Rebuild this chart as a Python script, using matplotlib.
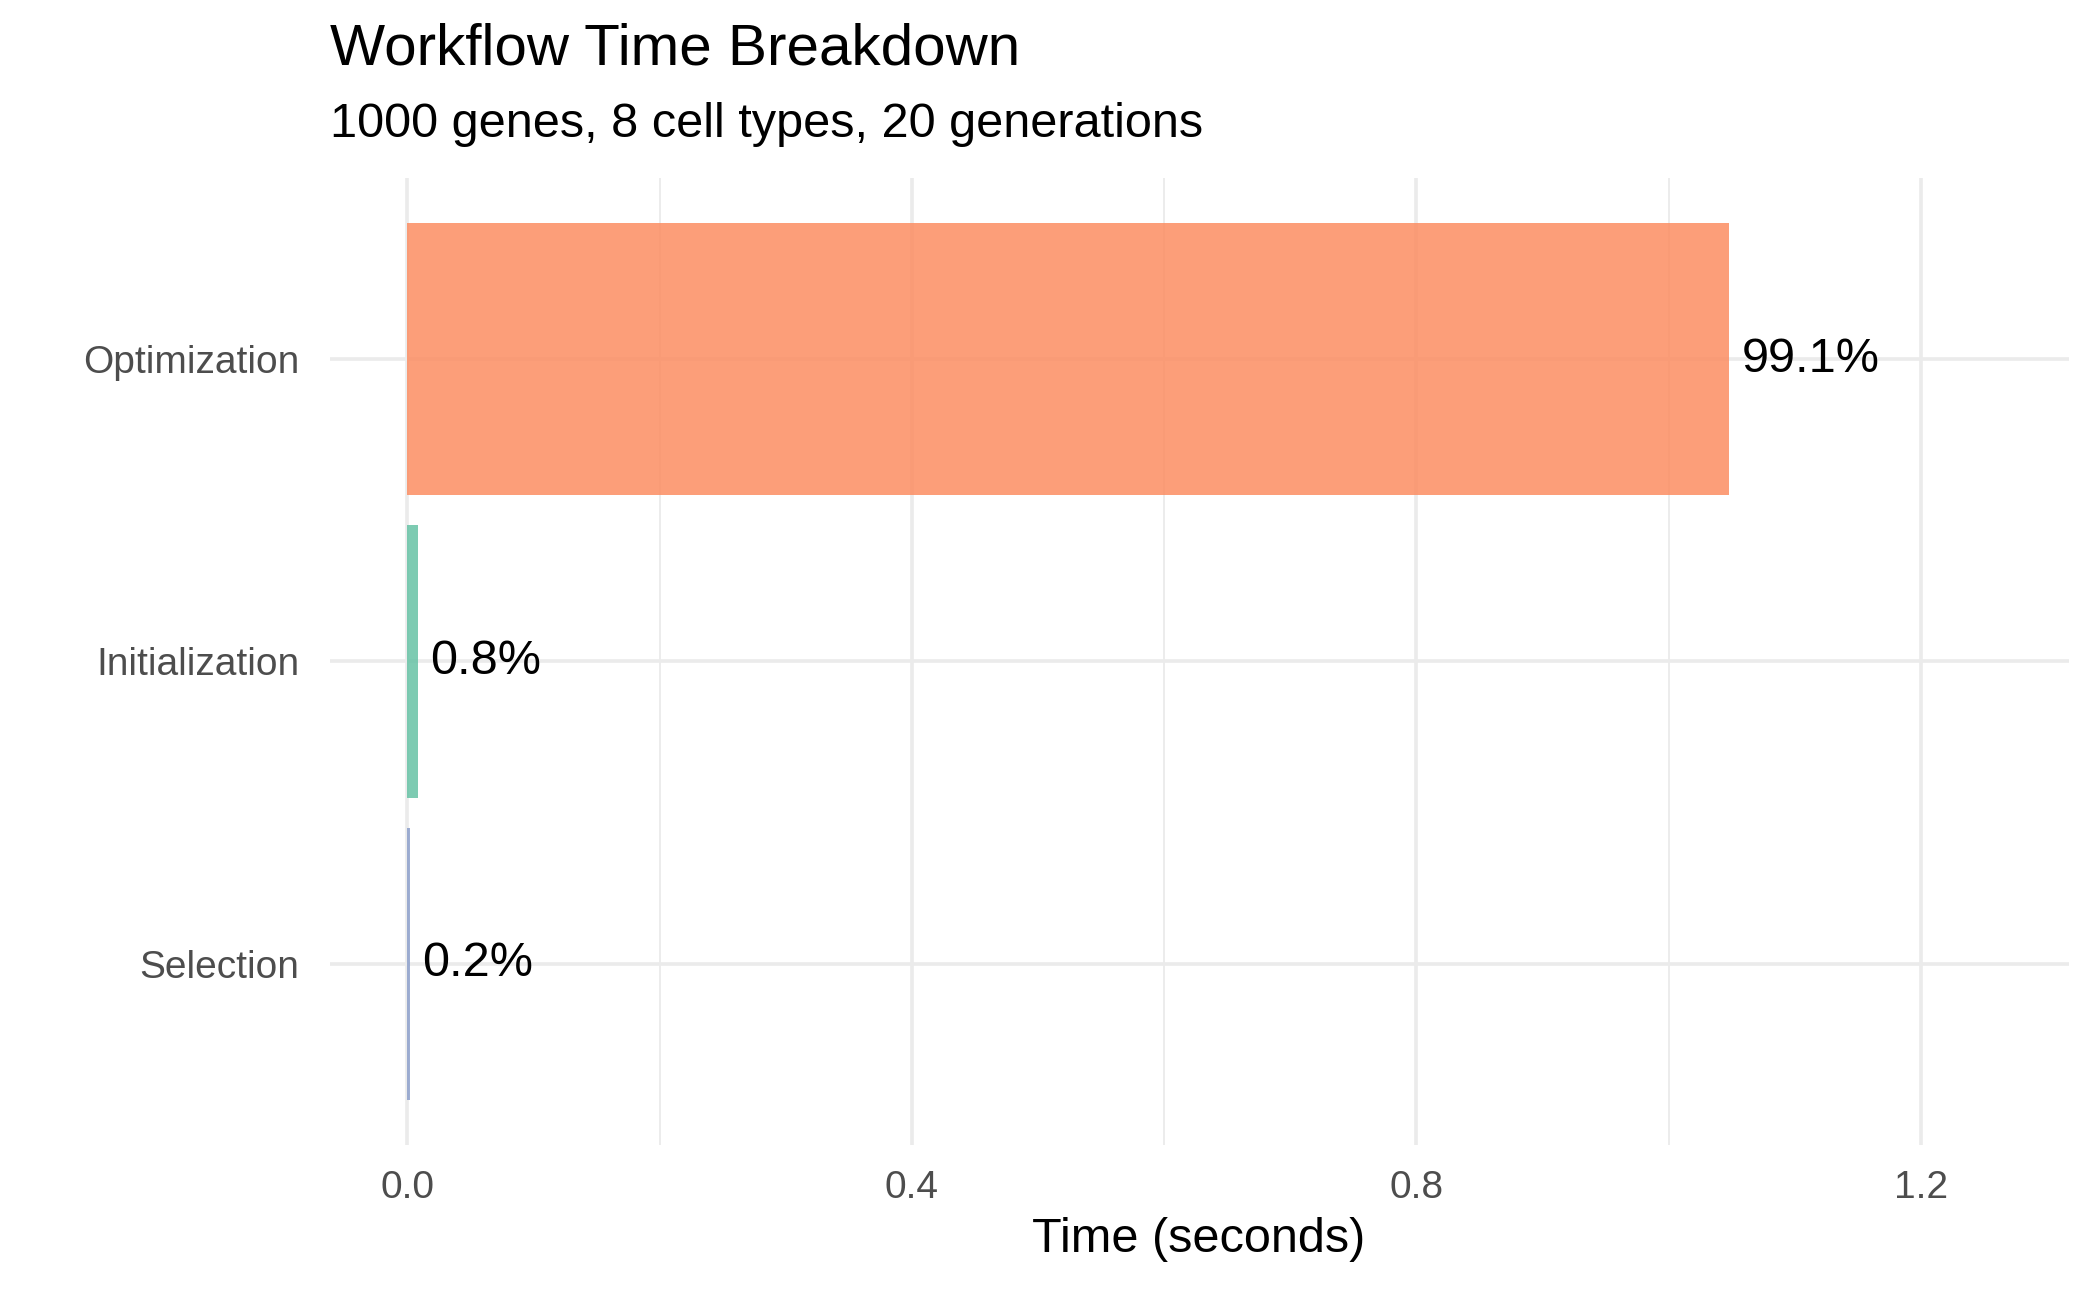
import matplotlib.pyplot as plt

steps = ["Selection", "Initialization", "Optimization"]
times = [0.0021, 0.0085, 1.048]
pcts = ["0.2%", "0.8%", "99.1%"]
colors = ["#8DA0CB", "#66C2A5", "#FC8D62"]

plt.rcParams['font.family'] = ['Liberation Sans', 'DejaVu Sans']
fig = plt.figure(figsize=(21, 12.97), dpi=100)
ax = fig.add_axes([0.157, 0.117, 0.828, 0.746])

ypos = list(range(len(steps)))
ax.barh(ypos, times, height=0.9, color=colors, alpha=0.85, zorder=2)
for y, t, p in zip(ypos, times, pcts):
    ax.text(t + 0.01, y, p, va='center', ha='left', fontsize=35, color='black', zorder=3)

ax.set_xlim(-0.0615, 1.317)
ax.set_ylim(-0.6, 2.6)
ax.set_yticks(ypos)
ax.set_yticklabels(steps)
ax.set_xticks([0.0, 0.4, 0.8, 1.2])
ax.set_xticklabels(["0.0", "0.4", "0.8", "1.2"])
ax.set_xticks([0.2, 0.6, 1.0], minor=True)
ax.tick_params(axis='both', which='both', length=0, labelsize=28, labelcolor='#4D4D4D')
ax.tick_params(axis='y', pad=22)
ax.tick_params(axis='x', pad=18)
ax.grid(True, which='major', color='#EBEBEB', linewidth=2.6, zorder=0)
ax.grid(True, which='minor', axis='x', color='#EBEBEB', linewidth=1.3, zorder=0)
ax.set_axisbelow(True)
for s in ax.spines.values():
    s.set_visible(False)
ax.set_xlabel("Time (seconds)", fontsize=35, labelpad=8)

fig.text(0.157, 0.962, "Workflow Time Breakdown", fontsize=42, ha='left', va='center')
fig.text(0.157, 0.904, "1000 genes, 8 cell types, 20 generations", fontsize=35, ha='left', va='center')

plt.savefig('out.png', dpi=100)
